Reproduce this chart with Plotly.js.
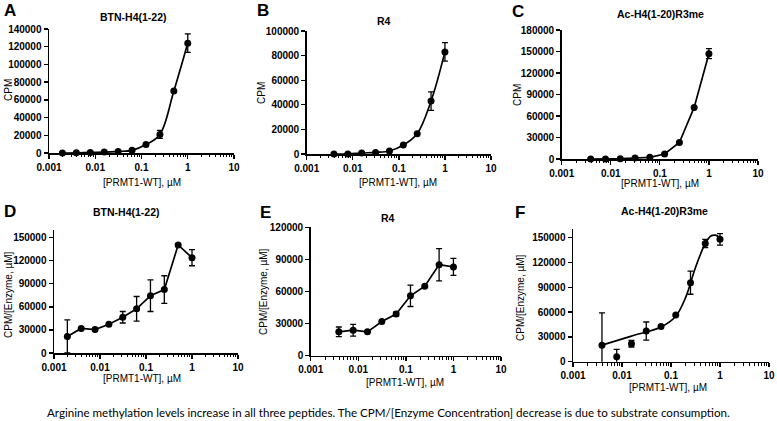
<!DOCTYPE html>
<html>
<head>
<meta charset="utf-8">
<script src="https://cdn.plot.ly/plotly-3.0.1.min.js"></script>
<style>html,body{margin:0;padding:0;background:#fff;}#chart{width:777px;height:421px;}</style>
</head>
<body>
<div id="chart"></div>
<script>
// ---------- data ----------
const doseA = [0.00195, 0.0039, 0.0078, 0.0156, 0.03125, 0.0625, 0.125, 0.25, 0.5, 1];
const doseB = [0.0039, 0.0078, 0.0156, 0.03125, 0.0625, 0.125, 0.25, 0.5, 1];

const cpmA = [0, 200, 700, 1000, 1800, 3000, 9500, 21000, 70000, 124000];
const cpmAErr = [0, 0, 0, 0, 0, 0, 0, 4500, 0, 10500];

const cpmB = [0, 0, 800, 1300, 2400, 7300, 16500, 43000, 83000];
const cpmBErr = [0, 0, 0, 0, 0, 0, 0, 7500, 7500];

const cpmC = [0, 0, 500, 1400, 2300, 7000, 23000, 72000, 147000];
const cpmCErr = [0, 0, 0, 0, 0, 0, 0, 0, 7000];

const normD = [21500, 32000, 30500, 37500, 46500, 57500, 74500, 82500, 140500, 124000];
const normDErr = [21500, 0, 0, 0, 7500, 16000, 20500, 18000, 0, 10500];

const normE = [22300, 23800, 22300, 32000, 39000, 56000, 65000, 85000, 83000];
const normEErr = [4500, 5500, 0, 0, 2000, 10000, 0, 15000, 8000];

const normF = [20000, 6000, 21800, 37000, 42700, 56500, 95600, 143000, 148000];
const normFErr = [39000, 9000, 4000, 11000, 0, 0, 14000, 5000, 7000];

// fitted curve for panel F
const fitFx = [0.0039, 0.0156, 0.0625, 0.125, 0.2, 0.3, 0.4, 0.5, 0.65, 0.8, 1];
const fitFy = [20000, 31000, 42000, 55000, 78000, 110000, 130000, 143000, 152000, 153000, 150000];

const titles = ["BTN-H4(1-22)", "R4", "Ac-H4(1-20)R3me", "BTN-H4(1-22)", "R4", "Ac-H4(1-20)R3me"];
const letters = ["A", "B", "C", "D", "E", "F"];
const xTitle = "[PRMT1-WT], µM";
const yTitles = ["CPM", "CPM", "CPM", "CPM/[Enzyme, µM]", "CPM/[Enzyme, µM]", "CPM/[Enzyme, µM]"];
const xTickVals = [0.001, 0.01, 0.1, 1, 10];
const xTickText = ["0.001", "0.01", "0.1", "1", "10"];
const caption = "Arginine methylation levels increase in all three peptides. The CPM/[Enzyme Concentration] decrease is due to substrate consumption.";

// ---------- layout helpers ----------
const W = 777, H = 421;
const px = v => v / W, py = v => 1 - v / H;
const SANS = "Arial, 'Liberation Sans', sans-serif";

// pixel boxes: [x-left, x-right, y-bottom(0), y-top]
const boxes = [
  [49, 234, 153, 29],
  [306.7, 491, 154, 31],
  [561.7, 758, 159, 30],
  [54, 238, 353, 230],
  [310.7, 501, 355.7, 227.3],
  [573, 769, 361.7, 229.4]
];
const yMax = [140000, 100000, 180000, 160000, 120000, 160000];
const yDt = [20000, 20000, 30000, 30000, 30000, 30000];

const tickFont = {family: SANS, size: 10, color: "#000", weight: 700};

const layout = {
  width: W, height: H,
  margin: {l: 0, r: 0, t: 0, b: 0},
  paper_bgcolor: "#fff", plot_bgcolor: "rgba(0,0,0,0)",
  showlegend: false,
  annotations: [],
  font: {family: SANS, color: "#000"}
};

boxes.forEach((b, i) => {
  const n = i === 0 ? "" : String(i + 1);
  layout["xaxis" + n] = {
    domain: [px(b[0]), px(b[1])], anchor: "y" + n,
    type: "log", range: [-3, 1],
    tickvals: xTickVals, ticktext: xTickText,
    ticks: "outside", ticklen: 4, tickwidth: 1.3, tickcolor: "#000",
    minor: {ticks: "outside", ticklen: 2.5, tickwidth: 1, tickcolor: "#000", dtick: "D1"},
    showline: true, linecolor: "#000", linewidth: 1.5,
    showgrid: false, zeroline: false,
    tickfont: tickFont, fixedrange: true
  };
  layout["yaxis" + n] = {
    domain: [py(b[2]), py(b[3])], anchor: "x" + n,
    range: [0, yMax[i]], dtick: yDt[i], tick0: 0, tickformat: "d",
    ticks: "outside", ticklen: 4, tickwidth: 1.3, tickcolor: "#000",
    showline: true, linecolor: "#000", linewidth: 1.5,
    showgrid: false, zeroline: false,
    tickfont: tickFont, fixedrange: true
  };
});

// text positions (pixels)
const letterPos = [[10, 11], [263, 11], [518, 12], [10, 211], [265, 212], [520, 212]];
const titlePos = [[133, 17], [384, 21], [660, 14], [127, 212], [388, 218], [664.5, 211]];
const xTitlePos = [[142, 182], [398, 182], [660, 183], [142, 378], [405, 382], [668, 387]];
const yTitlePos = [[8, 90], [262, 93], [518, 95], [8, 295], [263, 292], [520, 298]];

for (let i = 0; i < 6; i++) {
  layout.annotations.push({
    xref: "paper", yref: "paper", x: px(letterPos[i][0]), y: py(letterPos[i][1]),
    text: letters[i], showarrow: false, xanchor: "center", yanchor: "middle",
    font: {family: SANS, size: 17, weight: 700, color: "#000"}
  });
  layout.annotations.push({
    xref: "paper", yref: "paper", x: px(titlePos[i][0]), y: py(titlePos[i][1]),
    text: titles[i], showarrow: false, xanchor: "center", yanchor: "middle",
    font: {family: SANS, size: 10.5, weight: 700, color: "#000"}
  });
  layout.annotations.push({
    xref: "paper", yref: "paper", x: px(xTitlePos[i][0]), y: py(xTitlePos[i][1]),
    text: xTitle, showarrow: false, xanchor: "center", yanchor: "middle",
    font: {family: SANS, size: 10, color: "#000"}
  });
  layout.annotations.push({
    xref: "paper", yref: "paper", x: px(yTitlePos[i][0]), y: py(yTitlePos[i][1]),
    text: yTitles[i], showarrow: false, xanchor: "center", yanchor: "middle", textangle: -90,
    font: {family: SANS, size: 10, color: "#000"}
  });
}
layout.annotations.push({
  xref: "paper", yref: "paper", x: px(388.5), y: py(412),
  text: caption, showarrow: false, xanchor: "center", yanchor: "middle",
  font: {family: "Lato, 'Open Sans', sans-serif", size: 11.6, color: "#000"}
});

// ---------- traces ----------
const marker = {color: "#000", size: 7};
function errObj(arr) {
  return {type: "data", array: arr, visible: true, color: "#000", thickness: 1.3, width: 3};
}
function tr(x, y, err, n, shape, mode) {
  return {
    x: x, y: y, xaxis: "x" + n, yaxis: "y" + n,
    mode: mode || "lines+markers", type: "scatter",
    line: {color: "#000", width: 1.7, shape: shape || "linear", smoothing: 1},
    marker: marker,
    error_y: err ? errObj(err) : undefined,
    cliponaxis: false, hoverinfo: "skip"
  };
}

const data = [
  tr(doseA, cpmA, cpmAErr, "", "spline"),
  tr(doseB, cpmB, cpmBErr, "2", "spline"),
  tr(doseB, cpmC, cpmCErr, "3", "linear"),
  tr(doseA, normD, normDErr, "4", "linear"),
  tr(doseB, normE, normEErr, "5", "linear"),
  {
    x: fitFx, y: fitFy, xaxis: "x6", yaxis: "y6", mode: "lines", type: "scatter",
    line: {color: "#000", width: 1.7, shape: "spline", smoothing: 1}, hoverinfo: "skip"
  },
  tr(doseB, normF, normFErr, "6", "linear", "markers")
];

Plotly.newPlot("chart", data, layout, {staticPlot: true, displayModeBar: false});
</script>
</body>
</html>
